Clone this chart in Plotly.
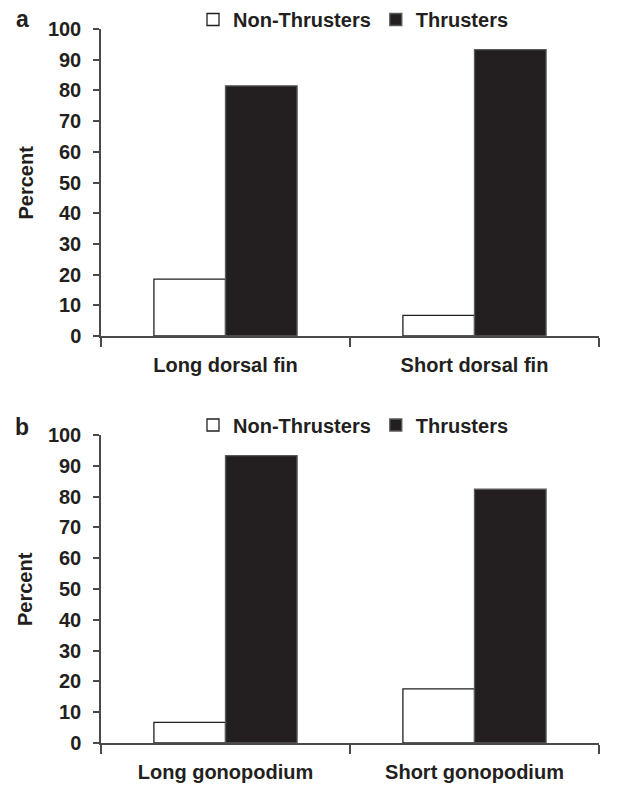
import plotly.graph_objects as go

# ---- data ----
categories_a = ["Long dorsal fin", "Short dorsal fin"]
non_thrusters_a = [18.5, 6.7]
thrusters_a = [81.5, 93.3]

categories_b = ["Long gonopodium", "Short gonopodium"]
non_thrusters_b = [6.7, 17.6]
thrusters_b = [93.3, 82.4]

series_names = ["Non-Thrusters", "Thrusters"]
y_ticks = list(range(0, 101, 10))

# ---- style ----
INK = "#231f20"
AXIS = "#4a4a4a"
FONT = "Liberation Sans, Arial, sans-serif"
FS = 20

fig = go.Figure()

def add_panel(cats, non, thr, xa, ya, legend):
    fig.add_trace(go.Bar(x=cats, y=non, name=series_names[0], xaxis=xa, yaxis=ya,
                         marker=dict(color="white", line=dict(color=INK, width=1.3)),
                         legend=legend, hoverinfo="skip"))
    fig.add_trace(go.Bar(x=cats, y=thr, name=series_names[1], xaxis=xa, yaxis=ya,
                         marker=dict(color=INK, line=dict(color="#5a5a5a", width=1.3)),
                         legend=legend, hoverinfo="skip"))

add_panel(categories_a, non_thrusters_a, thrusters_a, "x", "y", "legend")
add_panel(categories_b, non_thrusters_b, thrusters_b, "x2", "y2", "legend2")

W, H = 638, 787
ml, mr, mt, mb = 101, 39, 29, 44
ph = H - mt - mb
dom_a = [(H - mb - 336) / ph, 1.0]
dom_b = [0.0, (H - mb - 435) / ph]

xcommon = dict(type="category", range=[-0.5, 1.5], showline=True, linecolor=AXIS, linewidth=1.5,
               ticks="outside", tickson="boundaries", ticklen=9, tickwidth=1.5, tickcolor=AXIS,
               showgrid=False, zeroline=False, ticklabelstandoff=10,
               tickfont=dict(family=FONT, size=FS, color=INK, weight="bold"))
ycommon = dict(range=[0, 100], tickvals=y_ticks, showline=True, linecolor=AXIS, linewidth=1.5,
               ticks="outside", ticklen=6, tickwidth=1.5, tickcolor=AXIS,
               showgrid=False, zeroline=False, ticklabelstandoff=8,
               tickfont=dict(family=FONT, size=FS, color=INK, weight="bold"))

legcommon = dict(orientation="h", xref="container", yref="container", xanchor="left",
                 yanchor="middle", font=dict(family=FONT, size=FS, color=INK, weight="bold"),
                 bgcolor="rgba(0,0,0,0)", itemclick=False, itemdoubleclick=False)

fig.update_layout(
    width=W, height=H,
    margin=dict(l=ml, r=mr, t=mt, b=mb, autoexpand=False),
    paper_bgcolor="white", plot_bgcolor="white",
    barmode="group", bargap=0.425, bargroupgap=0,
    showlegend=True,
    xaxis=dict(domain=[0, 1], anchor="y", **xcommon),
    yaxis=dict(domain=dom_a, anchor="x", **ycommon),
    xaxis2=dict(domain=[0, 1], anchor="y2", **xcommon),
    yaxis2=dict(domain=dom_b, anchor="x2", **ycommon),
    legend=dict(x=193 / W, y=1 - 19.5 / H, **legcommon),
    legend2=dict(x=193 / W, y=1 - 425 / H, **legcommon),
)

pw = W - ml - mr
title_x = (25 - ml) / pw
for dom, label, ly in [(dom_a, "a", 19), (dom_b, "b", 427)]:
    fig.add_annotation(text="Percent", xref="paper", yref="paper", x=title_x,
                       y=(dom[0] + dom[1]) / 2, textangle=-90, showarrow=False,
                       xanchor="center", yanchor="middle",
                       font=dict(family=FONT, size=FS, color=INK, weight="bold"))
    fig.add_annotation(text=label, xref="paper", yref="paper", x=(22 - ml) / pw,
                       y=(H - mb - ly) / ph, showarrow=False, xanchor="center", yanchor="middle",
                       font=dict(family=FONT, size=23, color=INK, weight="bold"))

fig.write_html("out.html", config=dict(displayModeBar=False))
